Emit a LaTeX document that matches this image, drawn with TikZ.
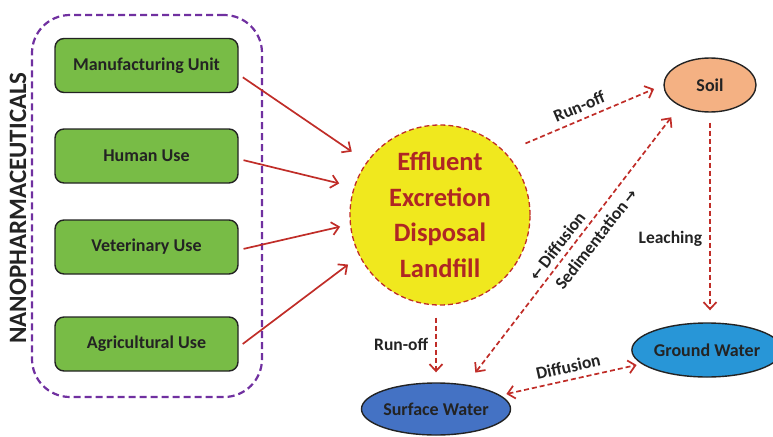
\documentclass[tikz,border=0pt]{standalone}
\usepackage{fontspec}
\setmainfont{Carlito}
\newfontfamily\arrowfont{DejaVu Sans}
\usetikzlibrary{arrows.meta,shapes.geometric}
\definecolor{boxgreen}{RGB}{120,188,70}
\definecolor{cyellow}{RGB}{240,232,30}
\definecolor{cred}{RGB}{192,45,40}
\definecolor{ctext}{RGB}{175,38,36}
\definecolor{cpurple}{RGB}{112,48,160}
\definecolor{csoil}{RGB}{244,177,131}
\definecolor{cgw}{RGB}{40,150,215}
\definecolor{csw}{RGB}{68,114,196}
\definecolor{dark}{RGB}{35,35,35}
\tikzset{
  srcbox/.style={draw=dark, line width=1.4pt, rounded corners=9pt, fill=boxgreen,
    minimum width=183pt, minimum height=54pt, text=dark,
    font=\bfseries\fontsize{18}{20}\selectfont},
  hub/.style={circle, draw=cred, dashed, dash pattern=on 5pt off 3pt, line width=1.3pt,
    fill=cyellow, minimum size=180pt, inner sep=0pt, text=ctext, align=center,
    font=\bfseries\fontsize{26.5}{35.5}\selectfont},
  oval/.style={ellipse, draw=dark, line width=1.4pt, inner sep=0pt, text=dark,
    font=\bfseries\fontsize{18}{20}\selectfont},
  lbl/.style={text=dark, inner sep=1pt, font=\bfseries\fontsize{17.5}{19}\selectfont},
  tip/.style={},
  solidarr/.style={draw=cred, line width=1.7pt, -{Straight Barb[length=7pt,width=13pt]}},
  dasharr/.style={draw=cred, line width=1.7pt, dash pattern=on 5pt off 3pt,
    -{Straight Barb[length=7pt,width=13pt]}},
  dasharr2/.style={dasharr, {Straight Barb[length=7pt,width=13pt]}-{Straight Barb[length=7pt,width=13pt]}},
}
\begin{document}
\begin{tikzpicture}[x=1pt,y=-1pt]
\useasboundingbox (0,0) rectangle (773,436);

% group frame
\node[draw=cpurple, line width=2.2pt, dash pattern=on 7pt off 4pt, rounded corners=38pt,
  minimum width=230pt, minimum height=382pt] (frame) at (147,206) {};
\node[rotate=90, text=dark, font=\bfseries\fontsize{25}{27}\selectfont] (title) at (18,208) {NANOPHARMACEUTICALS};

% sources
\node[srcbox] (m1) at (146.5,65.5) {Manufacturing Unit};
\node[srcbox] (m2) at (146.5,156) {Human Use};
\node[srcbox] (m3) at (146.5,247) {Veterinary Use};
\node[srcbox] (m4) at (146.5,344) {Agricultural Use};

% hub
\node[hub] (eff) at (440,215) {Effluent\\Excretion\\Disposal\\Landfill};

% compartments
\node[oval, fill=csoil, minimum width=92pt, minimum height=54pt] (soil) at (710,85) {Soil};
\node[oval, fill=cgw, minimum width=130pt, minimum height=54pt] (gw) at (707,350) {Ground Water};
\node[oval, fill=csw, minimum width=128pt, minimum height=52pt] (sw) at (436,409) {Surface Water};

% source arrows
\draw[solidarr, shorten <=5pt, shorten >=18pt] ([yshift=-9pt]m1.east) -- (eff.144);
\draw[solidarr, shorten <=5pt, shorten >=15pt] ([yshift=-3pt]m2.east) -- (eff.162);
\draw[solidarr, shorten <=5pt, shorten >=10pt] ([yshift=-3pt]m3.east) -- (eff.186);
\draw[solidarr, shorten <=5pt, shorten >=14pt] ([yshift=-3pt]m4.east) -- (eff.207);

% transport arrows
\draw[dasharr, shorten <=22pt, shorten >=10pt] (eff.44) -- node[lbl, sloped, above=5pt] {Run-off} (soil.west);
\draw[dasharr, shorten <=10pt, shorten >=12pt] (soil.south) -- node[lbl, left=6pt, pos=0.6] {Leaching} (soil.south |- gw.north);
\draw[dasharr, shorten <=12pt, shorten >=10pt] (eff.south -| sw.north) -- node[lbl, left=6pt] {Run-off} (sw.north);
\draw[dasharr2, shorten <=6pt, shorten >=5pt] (sw.12) -- node[lbl, sloped, above=5pt] {Diffusion} (gw.192);
\draw[dasharr2, shorten <=14pt, shorten >=15pt] (soil.215) -- (sw.39.5);

\node[lbl, rotate=52.5] (difl) at (557,246) {{\arrowfont\bfseries\fontsize{15}{17}\selectfont ←}\,Diffusion};
\node[lbl, rotate=52] (sedl) at (596,239) {Sedimentation\,{\arrowfont\bfseries\fontsize{15}{17}\selectfont →}};
\end{tikzpicture}
\end{document}
